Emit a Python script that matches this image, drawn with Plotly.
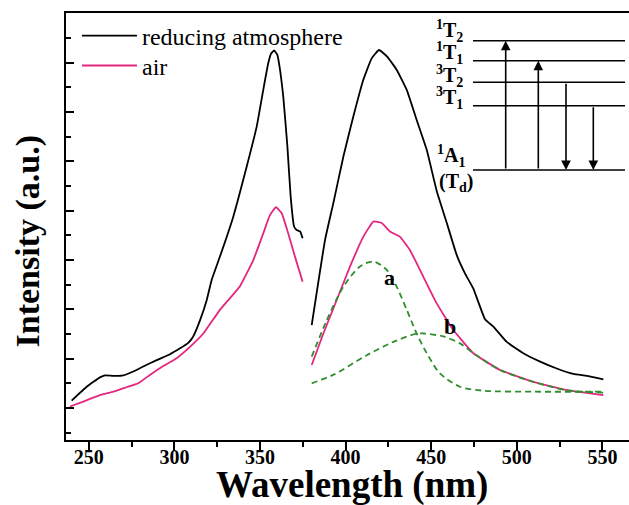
import plotly.graph_objects as go

# ---------------- data (wavelength nm, intensity a.u.) ----------------
red_wl_1 = [240.0, 248.8, 256.5, 259.5, 264.3, 270.2, 276.0, 281.8, 289.7, 297.4, 303.3, 308.1,
            311.0, 315.0, 318.9, 321.8, 326.6, 334.4, 342.2, 348.1, 351.9, 354.8, 356.5, 358.2,
            360.0, 361.3, 363.6, 366.0, 367.9, 369.9, 371.4, 373.4, 374.9]
red_int_1 = [0.80, 1.08, 1.27, 1.31, 1.30, 1.31, 1.39, 1.49, 1.62, 1.74, 1.86, 1.97,
             2.10, 2.43, 2.84, 3.25, 3.72, 4.53, 5.54, 6.36, 7.10, 7.64, 7.84, 7.90,
             7.82, 7.60, 6.96, 5.95, 4.94, 4.33, 4.26, 4.23, 4.09]
red_wl_2 = [380.2, 388.0, 392.8, 398.7, 404.5, 410.3, 415.2, 419.5, 424.4, 429.8, 435.7, 441.5,
            447.4, 453.2, 459.1, 464.9, 469.7, 474.6, 481.4, 486.3, 494.1, 503.8, 513.6, 523.3,
            533.0, 540.8, 550.5]
red_int_2 = [2.33, 4.06, 4.80, 5.75, 6.56, 7.30, 7.74, 7.91, 7.77, 7.51, 7.10, 6.49,
             5.88, 5.05, 4.40, 3.75, 3.38, 3.07, 2.45, 2.30, 1.99, 1.76, 1.59, 1.45,
             1.34, 1.30, 1.23]

air_wl_1 = [239.0, 246.8, 256.5, 264.3, 272.1, 278.9, 285.7, 293.5, 301.3, 309.1, 316.9, 326.6,
            338.3, 346.1, 351.9, 355.8, 359.3, 362.7, 366.5, 370.4, 374.9]
air_int_1 = [0.68, 0.78, 0.91, 0.98, 1.07, 1.15, 1.32, 1.50, 1.66, 1.89, 2.16, 2.64,
             3.12, 3.65, 4.19, 4.56, 4.72, 4.60, 4.19, 3.72, 3.21]
air_wl_2 = [380.2, 387.0, 394.8, 402.6, 410.3, 416.2, 421.1, 425.9, 431.8, 437.6, 445.4, 453.2,
            462.9, 474.6, 490.2, 509.6, 529.1, 550.5]
air_int_2 = [1.52, 2.16, 2.84, 3.52, 4.12, 4.43, 4.40, 4.23, 4.12, 3.85, 3.31, 2.77,
             2.23, 1.76, 1.42, 1.18, 1.01, 0.91]

fit_a_wl = [380.2, 389.0, 398.7, 408.4, 416.2, 424.0, 429.8, 435.7, 441.5, 447.4, 455.1, 466.8,
            480.4, 509.6, 550.5]
fit_a_int = [1.69, 2.43, 3.11, 3.52, 3.62, 3.45, 3.11, 2.64, 2.16, 1.76, 1.35, 1.08,
             1.00, 0.98, 0.98]
fit_b_wl = [380.2, 392.8, 412.3, 427.9, 441.5, 445.4, 457.1, 466.8, 474.6, 490.2, 509.6, 529.1, 550.5]
fit_b_int = [1.15, 1.32, 1.72, 1.99, 2.16, 2.16, 2.10, 1.96, 1.76, 1.42, 1.18, 1.01, 0.96]

x_ticks = [250, 300, 350, 400, 450, 500, 550]

# peak labels of the fitted components
peak_labels = ["a", "b"]
peak_label_wl = [425.9, 461.0]
peak_label_int = [3.29, 2.31]

# energy level inset (labels)
levels = ["<sup>1</sup>T<sub>2</sub>", "<sup>1</sup>T<sub>1</sub>",
          "<sup>3</sup>T<sub>2</sub>", "<sup>3</sup>T<sub>1</sub>", "<sup>1</sup>A<sub>1</sub>"]

FONT = "Liberation Serif"
MAGENTA = "#E3267F"
GREEN = "#2F8F2F"

fig = go.Figure()
fig.add_trace(go.Scatter(x=red_wl_1 + [None] + red_wl_2, y=red_int_1 + [None] + red_int_2,
                         mode="lines", name="reducing atmosphere", connectgaps=False,
                         legend="legend",
                         line=dict(color="black", width=1.8, shape="spline", smoothing=0.35)))
fig.add_trace(go.Scatter(x=air_wl_1 + [None] + air_wl_2, y=air_int_1 + [None] + air_int_2,
                         mode="lines", name="air", connectgaps=False, legend="legend2",
                         line=dict(color=MAGENTA, width=1.8, shape="spline", smoothing=0.35)))
fig.add_trace(go.Scatter(x=fit_a_wl, y=fit_a_int, mode="lines", showlegend=False,
                         line=dict(color=GREEN, width=1.8, dash="6px,4px", shape="spline", smoothing=0.8)))
fig.add_trace(go.Scatter(x=fit_b_wl, y=fit_b_int, mode="lines", showlegend=False,
                         line=dict(color=GREEN, width=1.8, dash="6px,4px", shape="spline", smoothing=0.8)))

legend_style = dict(xanchor="left", yanchor="top", bgcolor="rgba(0,0,0,0)",
                    font=dict(family=FONT, size=24, color="black"), itemwidth=55)

fig.update_layout(
    width=629, height=505, template="none",
    margin=dict(l=66, r=0, t=13, b=65),
    paper_bgcolor="white", plot_bgcolor="white",
    font=dict(family=FONT, color="black"),
    showlegend=True,
    legend=dict(x=0.0195, y=0.999, **legend_style),
    legend2=dict(x=0.0195, y=0.9288, **legend_style),
    xaxis=dict(range=[236.7, 565.5], tickvals=x_ticks, ticks="outside", ticklen=9, tickwidth=2,
               tickcolor="black", showline=True, linewidth=2, linecolor="black", mirror=True,
               showgrid=False, zeroline=False, automargin=False, ticklabelstandoff=-11,
               tickfont=dict(family=FONT, size=20, color="black", weight="bold"),
               minor=dict(ticks="outside", ticklen=5, tickwidth=2, tickcolor="black",
                          dtick=25, tick0=250, showgrid=False)),
    yaxis=dict(range=[0, 8.66], tick0=0.65, dtick=1, ticks="inside", ticklen=8, tickwidth=2,
               tickcolor="black", showline=True, linewidth=2, linecolor="black", mirror=False,
               showgrid=False, zeroline=False, showticklabels=False, automargin=False,
               minor=dict(ticks="inside", ticklen=5, tickwidth=2, tickcolor="black",
                          dtick=0.5, tick0=0.15, showgrid=False)),
)

# axis titles
fig.add_annotation(xref="paper", yref="paper", x=0.508, y=-0.106, xanchor="center",
                   yanchor="middle", text="<b>Wavelength (nm)</b>", showarrow=False,
                   font=dict(family=FONT, size=37, color="black"))
fig.add_annotation(xref="paper", yref="paper", x=-0.0675, y=0.4672, textangle=-90,
                   xanchor="center", yanchor="middle",
                   text="<b>Intensity (a.u.)</b>", showarrow=False,
                   font=dict(family=FONT, size=34, color="black"))

# peak labels
for txt, wl, val in zip(peak_labels, peak_label_wl, peak_label_int):
    fig.add_annotation(x=wl, y=val, text=f"<b>{txt}</b>", showarrow=False,
                       font=dict(family=FONT, size=22, color="black"))

# ---------------- inset energy-level diagram (paper coordinates) ----------------
level_y = [0.9351, 0.8883, 0.8377, 0.7829, 0.6323]
x0, x1 = 0.7229, 0.9929
for yv in level_y:
    fig.add_shape(type="line", xref="paper", yref="paper", x0=x0, x1=x1, y0=yv, y1=yv,
                  line=dict(color="black", width=1.6))
label_pos = [(0.7087, 0.996), (0.7087, 0.943), (0.7087, 0.891), (0.7087, 0.838), (0.7123, 0.665)]
for txt, (lx, ly) in zip(levels, label_pos):
    fig.add_annotation(xref="paper", yref="paper", x=lx, y=ly, xanchor="right",
                       text=f"<b>{txt}</b>", showarrow=False,
                       font=dict(family=FONT, size=20, color="black"))
fig.add_annotation(xref="paper", yref="paper", x=0.7265, y=0.604, xanchor="right",
                   text="<b>(T<sub>d</sub>)</b>", showarrow=False,
                   font=dict(family=FONT, size=20, color="black"))
# arrows: (x, from level, to level)
arrows = [(0.7810, 4, 0), (0.8389, 4, 1), (0.8881, 2, 4), (0.9366, 3, 4)]
plot_h = 505 - 13 - 65
for ax_x, i_from, i_to in arrows:
    dy_px = (level_y[i_to] - level_y[i_from]) * plot_h
    fig.add_annotation(xref="paper", yref="paper", x=ax_x, y=level_y[i_to], ax=0, ay=dy_px,
                       text="", showarrow=True, arrowhead=2, arrowsize=1.2, arrowwidth=1.6,
                       arrowcolor="black")

fig.write_html("out.html")
